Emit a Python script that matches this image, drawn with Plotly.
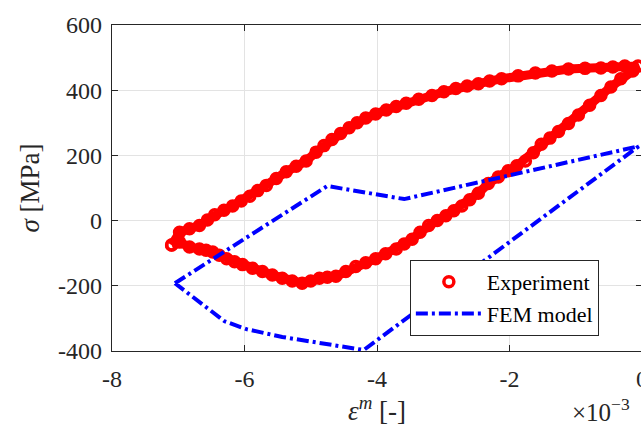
import plotly.graph_objects as go

# Experimental hysteresis loop (strain in units of 1e-3, stress in MPa)
exp_strain = [-7.10, -6.98, -6.83, -6.68, -6.56, -6.45, -6.31, -6.18, -6.05, -5.92, -5.80,
              -5.67, -5.52, -5.37, -5.22, -5.07, -4.92, -4.80, -4.68, -4.55, -4.42, -4.30,
              -4.17, -4.02, -3.86, -3.71, -3.56, -3.37, -3.17, -2.99, -2.81, -2.64, -2.47,
              -2.30, -2.12, -1.87, -1.61, -1.36, -1.11, -0.86, -0.62, -0.44, -0.26, -0.06,
              -0.14, -0.32, -0.47, -0.62, -0.79, -0.96, -1.11, -1.26, -1.39, -1.52, -1.64,
              -1.76, -1.89, -2.02, -2.17, -2.32, -2.47, -2.60, -2.72, -2.84, -2.96, -3.09,
              -3.22, -3.35, -3.47, -3.59, -3.71, -3.87, -4.02, -4.17, -4.32, -4.47, -4.62,
              -4.75, -4.87, -5.00, -5.13, -5.28, -5.43, -5.58, -5.73, -5.88, -6.03, -6.15,
              -6.27, -6.38, -6.48, -6.58, -6.68, -6.83, -6.98, -7.10]
exp_stress = [-75, -36, -25, -15, 2, 18, 32, 45, 60, 75, 92,
              108, 129, 150, 167, 183, 210, 230, 249, 267, 285, 300,
              315, 327, 339, 350, 360, 372, 384, 395, 405, 413, 420,
              428, 435, 444, 453, 459, 465, 467, 468, 471, 474, 474,
              459, 435, 410, 384, 354, 324, 298, 273, 253, 234, 208,
              183, 168, 153, 134, 114, 84, 64, 45, 30, 15, 0,
              -15, -36, -57, -72, -87, -102, -117, -129, -141, -156, -171,
              -174, -177, -185, -192, -185, -177, -167, -156, -146, -135, -126,
              -117, -106, -96, -91, -87, -81, -66, -75]

# FEM model loop
fem_strain = [-7.05, -4.75, -3.59, -0.05, -4.20, -4.72, -5.43, -5.97, -6.30, -7.05]
fem_stress = [-192, 106, 66, 228, -397, -381, -357, -333, -309, -192]

x_ticks = [-8, -6, -4, -2, 0]
x_tick_labels = ["-8", "-6", "-4", "-2", "0"]
y_ticks = [-400, -200, 0, 200, 400, 600]
y_tick_labels = ["-400", "-200", "0", "200", "400", "600"]

FONT = "Liberation Serif"
INK = "#262626"
GRID = "#e3e3e3"

fig = go.Figure()
fig.add_trace(go.Scatter(
    x=exp_strain, y=exp_stress, mode="lines",
    line=dict(color="#ff0000", width=9), showlegend=False, hoverinfo="skip"))
fig.add_trace(go.Scatter(
    x=exp_strain, y=exp_stress, mode="markers", name="Experiment",
    marker=dict(symbol="circle-open", size=10, color="#ff0000",
                line=dict(width=3.5, color="#ff0000"))))
fig.add_trace(go.Scatter(
    x=fem_strain, y=fem_stress, mode="lines", name="FEM model",
    line=dict(color="#0000ff", width=4, dash="12px,4px,3px,4px")))

fig.update_layout(
    width=660, height=430,
    margin=dict(l=112, r=16, t=18, b=79),
    paper_bgcolor="white", plot_bgcolor="white",
    font=dict(family=FONT, size=24, color=INK),
    showlegend=True,
    legend=dict(x=0.562, y=0.279, xanchor="left", yanchor="top",
                bgcolor="white", bordercolor=INK, borderwidth=1,
                font=dict(size=22, color="black"), tracegroupgap=0,
                itemwidth=66),
    annotations=[dict(text="×10<sup>−3</sup>", xref="paper", yref="paper",
                      x=0.864, y=-0.18, xanchor="left", yanchor="middle",
                      showarrow=False, font=dict(size=25, color=INK))],
)
fig.update_xaxes(
    range=[-8, 0], tickvals=x_ticks, ticktext=x_tick_labels,
    ticks="inside", ticklen=6, tickwidth=1, tickcolor=INK,
    showline=True, linecolor=INK, linewidth=1.3, mirror="allticks",
    showgrid=True, gridcolor=GRID, gridwidth=1, zeroline=False,
    ticklabelstandoff=6,
    title=dict(text="<i>ε</i><sup><i>m</i></sup> [-]", font=dict(size=27, color=INK), standoff=4))
fig.update_yaxes(
    range=[-400, 600], tickvals=y_ticks, ticktext=y_tick_labels,
    ticks="inside", ticklen=6, tickwidth=1, tickcolor=INK,
    showline=True, linecolor=INK, linewidth=1.3, mirror="allticks",
    showgrid=True, gridcolor=GRID, gridwidth=1, zeroline=False,
    ticklabelstandoff=4,
    title=dict(text="<i>σ</i> [MPa]", font=dict(size=27, color=INK), standoff=10))

fig.write_html("out.html", config={"displayModeBar": False},
               post_script="document.body.style.margin='0';document.body.style.overflow='hidden';")
